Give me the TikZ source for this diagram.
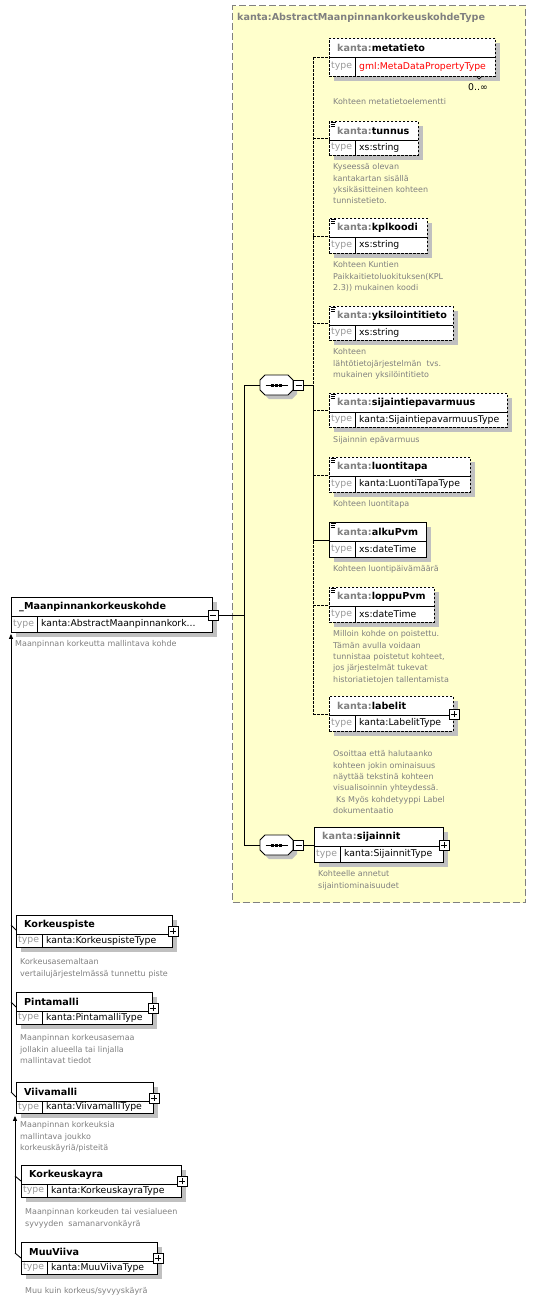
\documentclass[tikz,border=0pt]{standalone}
\usepackage{fontspec}
\setmainfont{DejaVu Sans}
\usetikzlibrary{arrows.meta}
\definecolor{ybg}{HTML}{FFFFCC}
\definecolor{bgray}{HTML}{808080}
\definecolor{kgray}{HTML}{808080}
\definecolor{descgray}{HTML}{808080}
\definecolor{typegray}{HTML}{999999}
\definecolor{shd}{HTML}{C0C0C0}
\newcommand\descfont{\fontsize{8}{11.33}\selectfont}
\newcommand\titlefont{\fontsize{9.6}{11}\selectfont\bfseries}
\newcommand\typefont{\fontsize{9.3}{11}\selectfont}
\newcommand\pre[1]{{\color{kgray}#1}}
\tikzset{
 elbox/.style={draw, fill=white, line width=0.9pt, inner sep=0, anchor=north west},
 optb/.style={dash pattern=on 2.5pt off 1.5pt},
 reqb/.style={solid},
 ttext/.style={font=\titlefont, anchor=west, inner sep=0},
 tlab/.style={font=\typefont, text=typegray, anchor=west, inner sep=0},
 ttype/.style={font=\typefont, anchor=west, inner sep=0},
 desc/.style={font=\descfont, text=descgray, align=left, anchor=north west, inner sep=0},
 pmbox/.style={draw, fill=white, minimum size=10pt, inner sep=0, line width=0.8pt},
 plusb/.style={pmbox, path picture={\draw[line width=0.8pt] (path picture bounding box.center) ++(-3pt,0) -- ++(6pt,0) (path picture bounding box.center) ++(0,-3pt) -- ++(0,6pt);}},
 minusb/.style={pmbox, path picture={\draw[line width=0.8pt] (path picture bounding box.center) ++(-3pt,0) -- ++(6pt,0);}},
 conn/.style={line width=0.9pt},
 optc/.style={conn, dash pattern=on 2.5pt off 1.5pt},
 subst/.style={conn, -{Triangle[width=4pt,length=5pt]}},
}
% #1 name, #2 x, #3 y, #4 w, #5 h, #6 border style, #7 title, #8 type
\newcommand\xel[8]{%
 \fill[shd] (#2+5,#3+5) rectangle (#2+#4+5,#3+#5+5);
 \node[elbox,#6,minimum width=#4pt,minimum height=#5pt] (#1) at (#2,#3) {};
 \draw[line width=0.8pt] (#2,#3+19) -- (#2+#4,#3+19);
 \draw[line width=0.8pt] (#2+26,#3+19) -- (#2+26,#3+#5);
 \node[ttext] (#1-title) at (#2+8,#3+10) {#7};
 \node[tlab] (#1-tlabel) at (#2+2,{#3+19+(#5-19)/2}) {type};
 \node[ttype] (#1-type) at (#2+30,{#3+19+(#5-19)/2}) {#8};
}
\newcommand\sicon[2]{%
 \draw[line width=0.7pt] (#1+1.5,#2+1.5) -- ++(5.5,0) (#1+1.5,#2+3.5) -- ++(4,0) (#1+1.5,#2+5.5) -- ++(4,0);}
\newcommand\octpath[2]{(#1-11.5,#2-10) -- (#1+11.5,#2-10) -- (#1+16.5,#2-5) -- (#1+16.5,#2+5) -- (#1+11.5,#2+10) -- (#1-11.5,#2+10) -- (#1-16.5,#2+5) -- (#1-16.5,#2-5) -- cycle}
% #1 name, #2 cx, #3 cy
\newcommand\seqc[3]{%
 \fill[shd] \octpath{#2+4}{#3+4};
 \draw[line width=0.9pt, fill=white] \octpath{#2}{#3};
 \node[inner sep=0, minimum width=33pt, minimum height=20pt] (#1) at (#2,#3) {};
 \draw[line width=1pt] (#2-11,#3) -- (#2+11,#3);
 \fill (#2-5.5,#3-1.5) rectangle ++(3,3);
 \fill (#2-1.5,#3-1.5) rectangle ++(3,3);
 \fill (#2+2.5,#3-1.5) rectangle ++(3,3);
 \node[minusb] (#1-minus) at ([xshift=5.5pt]#1.east) {};
}
\begin{document}
\begin{tikzpicture}[x=1pt,y=-1pt]
\useasboundingbox (0,0) rectangle (545,1299);
\fill[white] (0,0) rectangle (545,1299);
% complex type box
\node[draw=bgray, fill=ybg, dash pattern=on 7pt off 3pt, line width=1.1pt, minimum width=293pt, minimum height=897pt, anchor=north west, inner sep=0] (ctype) at (232,5) {};
\node[font=\titlefont, text=bgray, anchor=west, inner sep=0] (ctype-title) at (237,18) {kanta:AbstractMaanpinnankorkeuskohdeType};

% children of sequence 1
\xel{meta}{329}{38}{166}{38}{optb}{\pre{kanta:}metatieto}{\color{red}gml:MetaDataPropertyType}
\draw[line width=0.7pt] (476,76) -- (479,79) -- (482,76);
\node[font=\typefont, anchor=east, inner sep=0] (meta-occ) at (488,87) {0..∞};
\node[desc] (meta-doc) at (333,98.4) {Kohteen metatietoelementti};

\xel{tun}{329}{121}{89}{34}{optb}{\pre{kanta:}tunnus}{xs:string}
\sicon{329}{121}
\node[desc] (tun-doc) at (333,163.4) {Kyseessä olevan\\kantakartan sisällä\\yksikäsitteinen kohteen\\tunnistetieto.};

\xel{kpl}{329}{218}{98}{35}{optb}{\pre{kanta:}kplkoodi}{xs:string}
\sicon{329}{218}
\node[desc] (kpl-doc) at (333,261.4) {Kohteen Kuntien\\Paikkaitietoluokituksen(KPL\\2.3)) mukainen koodi};

\xel{yks}{329}{306}{124}{34}{optb}{\pre{kanta:}yksilointitieto}{xs:string}
\sicon{329}{306}
\node[desc] (yks-doc) at (333,348.4) {Kohteen\\lähtötietojärjestelmän \ tvs.\\mukainen yksilöintitieto};

\xel{sij}{329}{393}{178}{34}{optb}{\pre{kanta:}sijaintiepavarmuus}{kanta:SijaintiepavarmuusType}
\sicon{329}{393}
\node[desc] (sij-doc) at (333,436.4) {Sijainnin epävarmuus};

\xel{luo}{329}{457}{141}{35}{optb}{\pre{kanta:}luontitapa}{kanta:LuontiTapaType}
\sicon{329}{457}
\node[desc] (luo-doc) at (333,500.4) {Kohteen luontitapa};

\xel{alku}{329}{522}{97}{35}{reqb}{\pre{kanta:}alkuPvm}{xs:dateTime}
\sicon{329}{522}
\node[desc] (alku-doc) at (333,565.4) {Kohteen luontipäivämäärä};

\xel{lop}{329}{587}{105}{35}{optb}{\pre{kanta:}loppuPvm}{xs:dateTime}
\sicon{329}{587}
\node[desc] (lop-doc) at (333,630.4) {Milloin kohde on poistettu.\\Tämän avulla voidaan\\tunnistaa poistetut kohteet,\\jos järjestelmät tukevat\\historiatietojen tallentamista};

\xel{lab}{329}{696}{124}{35}{optb}{\pre{kanta:}labelit}{kanta:LabelitType}
\node[plusb] (lab-plus) at (lab.east) {};
\node[desc] (lab-doc) at (333,750.4) {Osoittaa että halutaanko\\kohteen jokin ominaisuus\\näyttää tekstinä kohteen\\visualisoinnin yhteydessä.\\\hspace{3pt}Ks Myös kohdetyyppi Label\\dokumentaatio};

% sequence 2 child
\xel{sjn}{314}{827}{129}{35}{reqb}{\pre{kanta:}sijainnit}{kanta:SijainnitType}
\node[plusb] (sjn-plus) at (sjn.east) {};
\node[desc] (sjn-doc) at (318,870.4) {Kohteelle annetut\\sijaintiominaisuudet};

% sequences
\seqc{seqa}{276.5}{385}
\seqc{seqb}{276.5}{845}

% main element
\xel{main}{11}{597}{201}{35}{reqb}{\_Maanpinnankorkeuskohde}{kanta:AbstractMaanpinnankork...}
\node[minusb] (main-minus) at (main.east) {};
\node[desc] (main-doc) at (15,640.4) {Maanpinnan korkeutta mallintava kohde};

% substitution group members
\xel{kp}{16}{915}{156}{32}{reqb}{Korkeuspiste}{kanta:KorkeuspisteType}
\node[plusb] (kp-plus) at (kp.east) {};
\node[desc] (kp-doc) at (20,958.4) {Korkeusasemaltaan\\vertailujärjestelmässä tunnettu piste};

\xel{pm}{16}{992}{136}{32}{reqb}{Pintamalli}{kanta:PintamalliType}
\node[plusb] (pm-plus) at (pm.east) {};
\node[desc] (pm-doc) at (20,1034.4) {Maanpinnan korkeusasemaa\\jollakin alueella tai linjalla\\mallintavat tiedot};

\xel{vm}{16}{1082}{137}{31}{reqb}{Viivamalli}{kanta:ViivamalliType}
\node[plusb] (vm-plus) at (vm.east) {};
\node[desc] (vm-doc) at (20,1121.4) {Maanpinnan korkeuksia\\mallintava joukko\\korkeuskäyriä/pisteitä};

\xel{kk}{21}{1165}{160}{32}{reqb}{Korkeuskayra}{kanta:KorkeuskayraType}
\node[plusb] (kk-plus) at (kk.east) {};
\node[desc] (kk-doc) at (25,1208.4) {Maanpinnan korkeuden tai vesialueen\\syvyyden \ samanarvonkäyrä};

\xel{mv}{21}{1242}{136}{32}{reqb}{MuuViiva}{kanta:MuuViivaType}
\node[plusb] (mv-plus) at (mv.east) {};
\node[desc] (mv-doc) at (25,1287.4) {Muu kuin korkeus/syvyyskäyrä};

% connectors main -> sequences
\coordinate (jx) at (244,615);
\draw[conn] (main-minus.east) -- (main-minus.east -| jx);
\draw[conn] (jx |- seqa.center) -- (jx |- seqb.center);
\draw[conn] (jx |- seqa.center) -- (seqa.west);
\draw[conn] (jx |- seqb.center) -- (seqb.west);
% sequence 1 -> children
\coordinate (cx) at (313,385);
\draw[conn] (seqa-minus.east) -- (cx);
\draw[optc] (cx |- meta.west) -- (cx |- lab.west);
\draw[conn] (cx) -- (cx |- alku.west);
\foreach \el in {meta,tun,kpl,yks,sij,luo,lop,lab}{\draw[optc] (cx |- \el.west) -- (\el.west);}
\draw[conn] (cx |- alku.west) -- (alku.west);
% sequence 2 -> sijainnit
\draw[conn] (seqb-minus.east) -- (seqb-minus.east -| sjn.west);

% substitution group lines
\draw[subst] ([xshift=-5pt,yshift=-10pt]vm.north west) -- ([yshift=-1pt]main.south west);
\foreach \el in {kp,pm,vm}{\draw[conn] ([xshift=-5pt,yshift=-10pt]\el.north west) -- ([yshift=-15pt]\el.north west);}
\draw[subst] ([xshift=-6pt,yshift=-11pt]mv.north west) -- ([xshift=-1pt,yshift=-2pt]vm.south west);
\foreach \el in {kk,mv}{\draw[conn] ([xshift=-6pt,yshift=-11pt]\el.north west) -- ([yshift=-16pt]\el.north west);}
\end{tikzpicture}
\end{document}
